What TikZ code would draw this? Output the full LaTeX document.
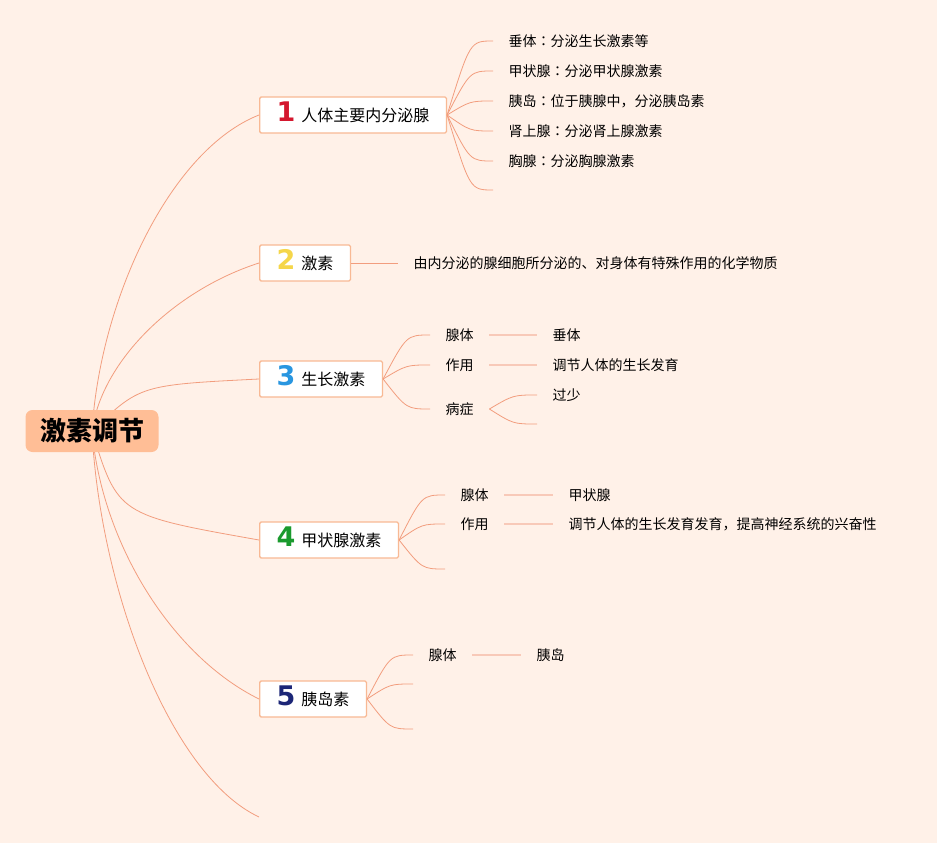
\documentclass[tikz,border=0pt]{standalone}
\usepackage{fontspec}
\setmainfont{Noto Sans CJK SC}
\newfontfamily\digitfont{DejaVu Sans}
\newfontfamily\tcfont{Noto Sans CJK TC}
\usetikzlibrary{calc}

\definecolor{paper}{HTML}{FFF1E8}
\definecolor{rootfill}{HTML}{FFBE96}
\definecolor{boxline}{HTML}{F8B994}
\definecolor{branchline}{HTML}{F29D7E}
\definecolor{numA}{HTML}{D4172E}
\definecolor{numB}{HTML}{F5D64A}
\definecolor{numC}{HTML}{2996E0}
\definecolor{numD}{HTML}{1A9A2E}
\definecolor{numE}{HTML}{1C2677}

\pgfdeclarelayer{links}
\pgfsetlayers{links,main}

\tikzset{
  rootbox/.style={fill=rootfill, rounded corners=7pt, minimum width=133pt, minimum height=42pt,
    font=\fontsize{26}{30}\selectfont\bfseries},
  topicbox/.style={draw=boxline, line width=1.3pt, fill=white, rounded corners=1.5pt,
    minimum height=36pt, text height=20pt, text depth=7pt, inner xsep=17pt, anchor=west,
    font=\fontsize{16}{18}\selectfont},
  leaf/.style={anchor=west, inner xsep=15.5pt, inner ysep=0pt, font=\fontsize{14}{16}\selectfont},
  link/.style={draw=branchline, line width=0.8pt},
  bar/.style={draw=branchline!55, line width=2pt},
  fan/.style={link, to path={.. controls ($(\tikztostart |- \tikztotarget)!0.5!(\tikztotarget)$) .. (\tikztotarget)}}
}
\newcommand{\topicnum}[2]{{\digitfont\bfseries\fontsize{27}{27}\selectfont\color{#1}#2}\hspace{6pt}}
\newcommand{\cln}{{\tcfont ：}}

\begin{document}
\begin{tikzpicture}[x=1pt, y=-1pt]
  \begin{pgfonlayer}{links}
    \fill[paper] (0,0) rectangle (937,843);
  \end{pgfonlayer}
  \useasboundingbox (0,0) rectangle (937,843);

  % Root
  \node[rootbox] (root) at (92,431) {激素调节};

  % Main topics
  \node[topicbox] (b1) at (259,115) {\topicnum{numA}{1}人体主要内分泌腺};
  \node[topicbox] (b2) at (259,263) {\topicnum{numB}{2}激素};
  \node[topicbox] (b3) at (259,379) {\topicnum{numC}{3}生长激素};
  \node[topicbox] (b4) at (259,540) {\topicnum{numD}{4}甲状腺激素};
  \node[topicbox] (b5) at (259,699) {\topicnum{numE}{5}胰岛素};
  \coordinate (b6) at (259,817);

  \begin{pgfonlayer}{links}
    \draw[link] (root.center) .. controls (100,300) and (170,150) .. (b1.west);
    \draw[link] (root.center) .. controls (102,360) and (175,290) .. (b2.west);
    \draw[link] (root.center) .. controls (140,385) .. (b3.west);
    \draw[link] (root.center) .. controls (118,515) .. (b4.west);
    \draw[link] (root.center) .. controls (102,544) and (172,656) .. (b5.west);
    \draw[link] (root.center) .. controls (100,589) and (170,775) .. (b6);
  \end{pgfonlayer}

  % 1: glands
  \foreach \t [count=\i, evaluate=\i as \y using 11+30*\i] in
    {垂体\cln 分泌生长激素等, 甲状腺\cln 分泌甲状腺激素, 胰岛\cln 位于胰腺中，分泌胰岛素,
     肾上腺\cln 分泌肾上腺激素, 胸腺\cln 分泌胸腺激素}{
    \node[leaf] (p\i) at (493,\y) {\t};
    \draw[fan] (b1.east) to (p\i.west);
  }
  \coordinate (p6) at (493,190);
  \draw[fan] (b1.east) to (p6);

  % 2: hormone
  \node[leaf] (d1) at (398,263) {由内分泌的腺细胞所分泌的、对身体有特殊作用的化学物质};
  \draw[link] (b2.east) -- (d1.west);

  % 3: growth hormone
  \node[leaf] (g1) at (430,335) {腺体};
  \node[leaf] (g2) at (430,365) {作用};
  \node[leaf] (g3) at (430,409) {病症};
  \node[leaf] (h1) at (537,335) {垂体};
  \node[leaf] (h2) at (537,365) {调节人体的生长发育};
  \node[leaf] (h3) at (537,395) {过少};
  \coordinate (h4) at (537,424);
  \foreach \n in {g1,g2,g3}
    \draw[fan] (b3.east) to (\n.west);
  \draw[bar] (g1.east) -- (h1.west);
  \draw[bar] (g2.east) -- (h2.west);
  \draw[fan] (g3.east) to (h3.west);
  \draw[fan] (g3.east) to (h4);

  % 4: thyroid hormone
  \node[leaf] (t1) at (445,495) {腺体};
  \node[leaf] (t2) at (445,524) {作用};
  \coordinate (t3) at (445,569);
  \node[leaf] (u1) at (553,495) {甲状腺};
  \node[leaf] (u2) at (553,524) {调节人体的生长发育发育，提高神经系统的兴奋性};
  \draw[fan] (b4.east) to (t1.west);
  \draw[fan] (b4.east) to (t2.west);
  \draw[fan] (b4.east) to (t3);
  \draw[bar] (t1.east) -- (u1.west);
  \draw[bar] (t2.east) -- (u2.west);

  % 5: insulin
  \node[leaf] (s1) at (413,655) {腺体};
  \coordinate (s2) at (413,684);
  \coordinate (s3) at (413,729);
  \node[leaf] (r1) at (521,655) {胰岛};
  \draw[fan] (b5.east) to (s1.west);
  \draw[fan] (b5.east) to (s2);
  \draw[fan] (b5.east) to (s3);
  \draw[bar] (s1.east) -- (r1.west);
\end{tikzpicture}
\end{document}
